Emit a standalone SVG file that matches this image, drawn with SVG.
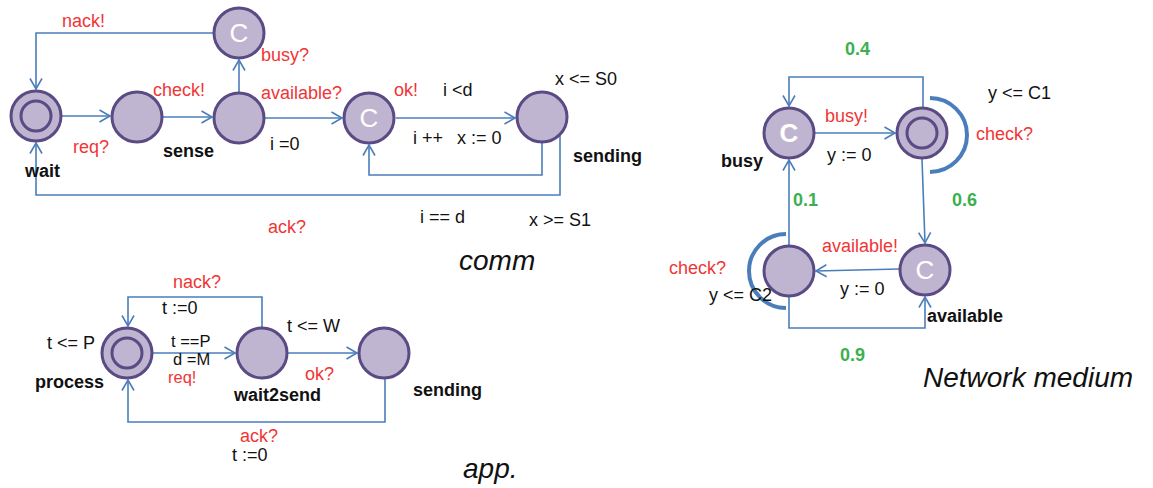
<svg xmlns="http://www.w3.org/2000/svg" width="1153" height="488" viewBox="0 0 1153 488">
<style>
.st{fill:#bfb5d1;stroke:#5b4b84;stroke-width:3}
.in{fill:none;stroke:#5b4b84;stroke-width:3}
.e{fill:none;stroke:#4a7ebb;stroke-width:1.6}
.inv{fill:none;stroke:#4a7ebb;stroke-width:4}
text{font-family:"Liberation Sans",Arial,sans-serif;font-size:18px;fill:#111}
.r{fill:#f03535}
.g{fill:#3caf50;font-weight:bold}
.b{font-weight:bold}
.sm{font-size:16.5px}
.it{font-style:italic;font-size:28px}
.c{fill:#fff;font-size:26px;text-anchor:middle}
.cb{fill:#fff;font-size:26px;text-anchor:middle;font-weight:bold}
</style>
<defs>
<marker id="ah" markerWidth="13" markerHeight="14" refX="11.5" refY="7" orient="auto" markerUnits="userSpaceOnUse">
<path d="M1,1 L11.5,7 L1,13" fill="none" stroke="#4a7ebb" stroke-width="1.6"/>
</marker>
</defs>
<rect width="1153" height="488" fill="#fff"/>
<g id="connectors">
<path class="e" d="M62,116 L110,116" marker-end="url(#ah)"/>
<path class="e" d="M163,117 L212,117" marker-end="url(#ah)"/>
<path class="e" d="M239,92 L239,60" marker-end="url(#ah)"/>
<path class="e" d="M213,33 L36,33 L36,89" marker-end="url(#ah)"/>
<path class="e" d="M265,118 L342,118" marker-end="url(#ah)"/>
<path class="e" d="M396,118 L515,118" marker-end="url(#ah)"/>
<path class="e" d="M542,143 L542,175 L369,175 L369,145" marker-end="url(#ah)"/>
<path class="e" d="M560,136 L560,195 L36,195 L36,143" marker-end="url(#ah)"/>
<path class="e" d="M153,353 L235,353" marker-end="url(#ah)"/>
<path class="e" d="M288,353 L357,353" marker-end="url(#ah)"/>
<path class="e" d="M262,327 L262,297 L128,297 L128,326" marker-end="url(#ah)"/>
<path class="e" d="M385,379 L385,422 L128,422 L128,380" marker-end="url(#ah)"/>
<path class="e" d="M815,133 L895,133" marker-end="url(#ah)"/>
<path class="e" d="M923,107 L923,77 L789,77 L789,106" marker-end="url(#ah)"/>
<path class="e" d="M789,245 L789,160" marker-end="url(#ah)"/>
<path class="e" d="M922,159 L925,243" marker-end="url(#ah)"/>
<path class="e" d="M899,269 L816,271" marker-end="url(#ah)"/>
<path class="e" d="M789,297 L789,328 L925,328 L925,297" marker-end="url(#ah)"/>
</g>
<g id="comm">
<g id="wait"><circle class="st" cx="36" cy="116" r="25"/><circle class="in" cx="36" cy="116" r="15"/><text class="b" x="25" y="177">wait</text></g>
<g id="sense"><circle class="st" cx="137" cy="117" r="25"/><text class="b" x="163" y="157">sense</text></g>
<g id="check"><circle class="st" cx="239" cy="118" r="25"/></g>
<g id="nackC"><circle class="st" cx="239" cy="33" r="25"/><text class="c" x="239" y="42">C</text></g>
<g id="okC"><circle class="st" cx="369" cy="118" r="25"/><text class="c" x="369" y="127">C</text></g>
<g id="commSending"><circle class="st" cx="542" cy="117" r="25"/><text class="b" x="573" y="162">sending</text></g>
<text class="r" x="62" y="27">nack!</text>
<text class="r" x="261" y="61">busy?</text>
<text class="r" x="153" y="96">check!</text>
<text class="r" x="261" y="99">available?</text>
<text class="r" x="73" y="153">req?</text>
<text x="270" y="150">i =0</text>
<text class="r" x="268" y="233">ack?</text>
<text class="r" x="394" y="96">ok!</text>
<text x="443" y="96">i &lt;d</text>
<text x="555" y="85">x &lt;= S0</text>
<text x="413" y="144">i ++</text>
<text x="457" y="144">x := 0</text>
<text x="420" y="223">i == d</text>
<text x="529" y="226">x &gt;= S1</text>
<text class="it" x="459" y="270">comm</text>
</g>
<g id="app">
<g id="process"><circle class="st" cx="127" cy="353" r="25"/><circle class="in" cx="127" cy="353" r="15"/><text class="b" x="35" y="388">process</text></g>
<g id="wait2send"><circle class="st" cx="262" cy="353" r="25"/><text class="b" x="234" y="401">wait2send</text></g>
<g id="appSending"><circle class="st" cx="384" cy="353" r="25"/><text class="b" x="413" y="396">sending</text></g>
<text class="r" x="173" y="288">nack?</text>
<text x="162" y="314">t :=0</text>
<text x="287" y="332">t &lt;= W</text>
<text class="sm" x="171" y="347">t ==P</text>
<text class="sm" x="173" y="365">d =M</text>
<text class="r sm" x="168" y="383">req!</text>
<text class="r" x="305" y="380">ok?</text>
<text class="r" x="240" y="442">ack?</text>
<text x="232" y="461">t :=0</text>
<text x="47" y="349">t &lt;= P</text>
<text class="it" x="463" y="478">app.</text>
</g>
<g id="network">
<path class="inv" d="M930,98 A37,37 0 0 1 930,172"/>
<path class="inv" d="M786,234 A37,37 0 0 0 786,308"/>
<g id="busy"><circle class="st" cx="789" cy="133" r="25"/><text class="cb" x="789" y="142">C</text><text class="b" x="721" y="167">busy</text></g>
<g id="idle"><circle class="st" cx="922" cy="133" r="25"/><circle class="in" cx="922" cy="133" r="15"/></g>
<g id="available"><circle class="st" cx="925" cy="270" r="25"/><text class="c" x="925" y="279">C</text><text class="b" x="927" y="322">available</text></g>
<g id="checking"><circle class="st" cx="789" cy="271" r="25"/></g>
<text class="g" x="845" y="55">0.4</text>
<text x="988" y="99">y &lt;= C1</text>
<text class="r" x="825" y="122">busy!</text>
<text class="r" x="976" y="140">check?</text>
<text x="827" y="161">y := 0</text>
<text class="g" x="793" y="206">0.1</text>
<text class="g" x="952" y="206">0.6</text>
<text class="r" x="822" y="252">available!</text>
<text class="r" x="669" y="274">check?</text>
<text x="709" y="301">y &lt;= C2</text>
<text x="840" y="295">y := 0</text>
<text class="g" x="840" y="361">0.9</text>
<text class="it" x="923" y="387">Network medium</text>
</g>
</svg>
